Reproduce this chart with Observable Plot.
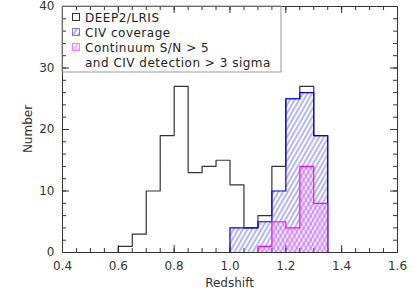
<!DOCTYPE html>
<html>
<head>
<meta charset="utf-8">
<script src="https://cdn.jsdelivr.net/npm/d3@7"></script>
<script src="https://cdn.jsdelivr.net/npm/@observablehq/plot@0.6"></script>
<style>
  html, body { margin: 0; padding: 0; background: #fff; }
  svg { font-family: "DejaVu Sans", sans-serif; }
</style>
</head>
<body>
<div id="chart"></div>
<script>
// ---- data ----
const binWidth = 0.05;
const deepBins   = [0.60, 0.65, 0.70, 0.75, 0.80, 0.85, 0.90, 0.95, 1.00, 1.05, 1.10, 1.15, 1.20, 1.25, 1.30];
const deepCounts = [1, 3, 10, 19, 27, 13, 14, 15, 11, 4, 6, 14, 25, 27, 19];
const civBins    = [1.00, 1.05, 1.10, 1.15, 1.20, 1.25, 1.30];
const civCounts  = [4, 4, 5, 10, 25, 26, 19];
const detBins    = [1.10, 1.15, 1.20, 1.25, 1.30];
const detCounts  = [1, 5, 4, 14, 8];

const xMajor = [0.4, 0.6, 0.8, 1.0, 1.2, 1.4, 1.6];
const xMajorLabels = ["0.4", "0.6", "0.8", "1.0", "1.2", "1.4", "1.6"];
const xMinor = d3.range(0, 25).map(i => +(0.4 + i * 0.05).toFixed(2));
const yMajor = [0, 10, 20, 30, 40];
const yMinor = d3.range(0, 21).map(i => i * 2);

const legendLabels = ["DEEP2/LRIS", "CIV coverage", "Continuum S/N > 5", "and CIV detection > 3 sigma"];

const cBlack = "#333333", cBlue = "#0000ff", cPink = "#ff00ff";

// ---- layout ----
const W = 415, H = 297, mL = 62, mR = 18, mT = 6, mB = 45;
const FW = W - mL - mR, FH = H - mT - mB;

// ---- derived tables ----
const rects = (bins, counts) => bins.map((b, i) => ({x1: b, x2: b + binWidth, y: counts[i]}));
function outline(bins, counts, pad) {
  const pts = [];
  pts.push({x: bins[0] - pad, y: 0});
  bins.forEach((b, i) => pts.push({x: b, y: counts[i]}));
  const end = bins[bins.length - 1] + binWidth;
  pts.push({x: end, y: 0});
  pts.push({x: end + pad, y: 0});
  return pts;
}

// inward ticks: full-frame rules shortened with insets
const tickX = (vals, len, side) => Plot.ruleX(vals, {x: d => d, stroke: cBlack, strokeWidth: 1,
  ...(side === "bottom" ? {insetTop: FH - len} : {insetBottom: FH - len})});
const tickY = (vals, len, side) => Plot.ruleY(vals, {y: d => d, stroke: cBlack, strokeWidth: 1,
  ...(side === "left" ? {insetRight: FW - len} : {insetLeft: FW - len})});

const tickFont = {fontSize: 12, fill: "#333"};

const svg = Plot.plot({
  width: W,
  height: H,
  marginLeft: mL,
  marginRight: mR,
  marginTop: mT,
  marginBottom: mB,
  style: {fontFamily: "DejaVu Sans, sans-serif", fontSize: "12px", color: "#333", background: "#fff"},
  x: {domain: [0.4, 1.6]},
  y: {domain: [0, 40]},
  marks: [
    tickX(xMinor, 4, "bottom"), tickX(xMajor, 7, "bottom"),
    tickX(xMinor, 4, "top"), tickX(xMajor, 7, "top"),
    tickY(yMinor, 4, "left"), tickY(yMajor, 7, "left"),
    tickY(yMinor, 4, "right"), tickY(yMajor, 7, "right"),
    Plot.line(outline(deepBins, deepCounts, 0), {x: "x", y: "y", curve: "step-after", stroke: cBlack, strokeWidth: 1.2}),
    Plot.rectY(rects(civBins, civCounts), {x1: "x1", x2: "x2", y: "y", fill: "url(#hatchBlue)"}),
    Plot.line(outline(civBins, civCounts, binWidth / 2), {x: "x", y: "y", curve: "step-after", stroke: cBlue, strokeWidth: 1.2}),
    Plot.rectY(rects(detBins, detCounts), {x1: "x1", x2: "x2", y: "y", fill: "url(#hatchPink)"}),
    Plot.line(outline(detBins, detCounts, binWidth / 2), {x: "x", y: "y", curve: "step-after", stroke: cPink, strokeWidth: 1.2}),
    Plot.frame({stroke: cBlack, strokeWidth: 1}),
    Plot.axisX({anchor: "bottom", ticks: xMajor, tickSize: 0, tickPadding: 9,
      tickFormat: d => xMajorLabels[xMajor.indexOf(d)], label: null, ...tickFont}),
    Plot.axisY({anchor: "left", ticks: yMajor, tickSize: 0, tickPadding: 8,
      tickFormat: d => String(d), label: null, ...tickFont})
  ]
});

const s = d3.select(svg);

const defs = s.insert("defs", ":first-child");
function hatch(id, color, angle) {
  const p = defs.append("pattern").attr("id", id).attr("patternUnits", "userSpaceOnUse")
    .attr("width", 4).attr("height", 10).attr("patternTransform", `rotate(${angle})`);
  p.append("line").attr("x1", 1).attr("y1", -1).attr("x2", 1).attr("y2", 11)
    .attr("stroke", color).attr("stroke-width", 0.9);
}
hatch("hatchBlue", "#5a5aff", 30);
hatch("hatchPink", "#ff44ff", -30);
hatch("hatchPink2", "#ff44ff", 30);

// axis titles
s.append("text").attr("x", mL + FW / 2).attr("y", 287).attr("text-anchor", "middle")
  .attr("font-size", 12).attr("fill", "#333").text("Redshift");
s.append("text").attr("transform", `translate(32,${mT + FH / 2}) rotate(-90)`).attr("text-anchor", "middle")
  .attr("font-size", 12).attr("fill", "#333").text("Number");

// legend
const lg = s.append("g").attr("text-anchor", "start");
lg.append("rect").attr("x", mL).attr("y", mT).attr("width", 219).attr("height", 66)
  .attr("fill", "none").attr("stroke", "#999").attr("stroke-width", 1);
const rowY = [17, 32, 47, 62];
const sw = [
  {fill: "none", stroke: cBlack},
  {fill: "url(#hatchBlue)", stroke: "#7777ff"},
  {fill: "url(#hatchPink2)", stroke: "#ff77ff"}
];
sw.forEach((d, i) => {
  lg.append("rect").attr("x", 72.5).attr("y", rowY[i] - 3.5).attr("width", 7).attr("height", 7)
    .attr("fill", d.fill).attr("stroke", d.stroke).attr("stroke-width", 1);
});
legendLabels.forEach((t, i) => {
  lg.append("text").attr("x", 85).attr("y", rowY[i] + 4.5).attr("font-size", 12)
    .attr("letter-spacing", "0.5").attr("text-anchor", "start").attr("fill", "#222").text(t);
});

document.getElementById("chart").appendChild(svg);
</script>
</body>
</html>
